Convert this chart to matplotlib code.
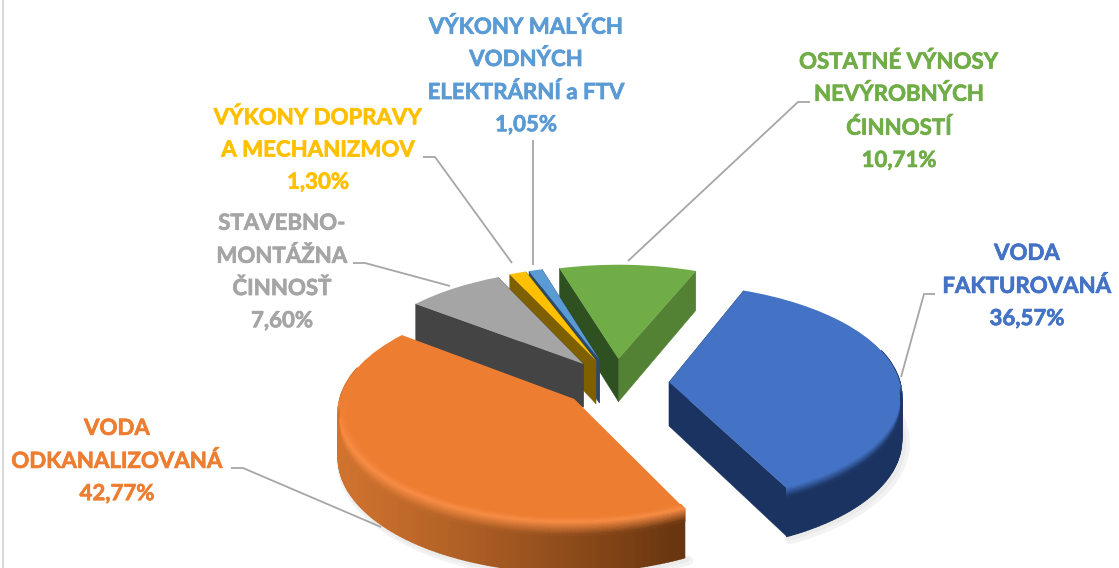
import numpy as np
import matplotlib
matplotlib.use("Agg")
import matplotlib.pyplot as plt
import matplotlib.patheffects as pe
from matplotlib.collections import PolyCollection
from matplotlib.colors import to_rgb
from matplotlib.transforms import Transform

# ---- data ----
CATEGORIES = ["VODA\nFAKTUROVANÁ", "VODA\nODKANALIZOVANÁ", "STAVEBNO-\nMONTÁŽNA\nČINNOSŤ",
              "VÝKONY DOPRAVY\nA MECHANIZMOV", "VÝKONY MALÝCH\nVODNÝCH\nELEKTRÁRNÍ a FTV",
              "OSTATNÉ VÝNOSY\nNEVÝROBNÝCH\nĆINNOSTÍ"]
VALUES = [36.57, 42.77, 7.60, 1.30, 1.05, 10.71]

# ---- style ----
TOP = ["#4472c4", "#ed7d31", "#a5a5a5", "#ffc000", "#5b9bd5", "#70ad47"]
CUT = ["#1b3360", "#8a4a1c", "#444444", "#7f6000", "#2b4a68", "#2f5020"]
CUT_R = {5: "#548235"}
LABEL_POS = [(1027, 286), (117, 461), (282, 272), (318, 150), (526, 76), (899, 111)]
DRAW_ORDER = [5, 4, 3, 2, 0, 1]
LEADERS = [[(901, 377), (924, 294), (935, 294)],
           [(381, 527), (243, 468), (231, 468)],
           [(450, 286), (365, 263), (353, 263)],
           [(512, 263), (435, 157), (423, 157)],
           [(533, 265), (533, 140)],
           [(628, 261), (798, 102), (810, 102)]]
CX, CY, S, SK, P, DEPTH = 616, 383, 231, 108, 0.10, 44
EXPLODE = 0.23
HIGHLIGHT = "#f78c44"


def project(X, Y, d=0.0):
    w = 1 + P * Y
    return CX + S * X / w, CY - SK * Y / w + d * DEPTH / w


class Persp(Transform):
    input_dims = 2
    output_dims = 2
    is_affine = False
    has_inverse = False

    def transform_non_affine(self, v):
        v = np.asarray(v, float)
        return np.column_stack(project(v[:, 0], v[:, 1]))


def mix(a, b, f):
    a, b = np.array(to_rgb(a)), np.array(to_rgb(b))
    return tuple(a + (b - a) * f)


plt.rcParams["font.family"] = ["Lato", "DejaVu Sans"]
fig = plt.figure(figsize=(11.19, 5.68), dpi=100)
ax = fig.add_axes([0, 0, 1, 1])
wedges, _ = ax.pie(VALUES, explode=[EXPLODE] * len(VALUES), startangle=68, counterclock=False,
                   colors=TOP, wedgeprops=dict(transform=Persp() + ax.transData, linewidth=0))
ax.set_aspect("auto")
ax.set_xlim(0, 1119)
ax.set_ylim(568, 0)
ax.axis("off")


def ring(w, t, r0, r1, d0, d1, cols, z):
    """strip of quads along the arc of wedge w"""
    c = np.array(w.center)
    co, si = np.cos(np.radians(t)), np.sin(np.radians(t))
    xa, ya = project(c[0] + r0 * co, c[1] + r0 * si, d0)
    xb, yb = project(c[0] + r1 * co, c[1] + r1 * si, d1)
    polys = [[(xa[i], ya[i]), (xa[i + 1], ya[i + 1]), (xb[i + 1], yb[i + 1]), (xb[i], yb[i])]
             for i in range(len(t) - 1)]
    ax.add_collection(PolyCollection(polys, facecolors=cols, edgecolors=cols, linewidths=1.0, zorder=z))


def wall_colour(i, w, tm):
    if i != 1:
        return [CUT[i]] * len(tm)
    c = w.center
    sx = project(c[0] + np.cos(np.radians(tm)), c[1] + np.sin(np.radians(tm)))[0]
    f = np.clip((sx - 338) / (686 - 338), 0, 1)
    return [mix("#d0732f", "#66340f", v ** 1.15) for v in f]


for rank, i in enumerate(DRAW_ORDER):
    w = wedges[i]
    z = 10 + rank * 10
    c = np.array(w.center)
    t1, t2 = w.theta1, w.theta2
    t = np.arange(t1, t2 + 0.5, 1.0)
    t[-1] = t2

    # soft shadow under the front of the wedge
    front = t[np.sin(np.radians(t)) < 0.3]
    if len(front) > 1:
        for grow, shade in ((7, "#f3f3f3"), (4, "#ebebeb")):
            sx, sy = project(c[0] + np.cos(np.radians(front)), c[1] + np.sin(np.radians(front)), 1)
            ax.plot(sx + grow * 0.5, sy + grow * 0.4, color=shade, lw=grow, zorder=1,
                    solid_capstyle="round")

    # the two cut faces (the big orange slice hides both of its own)
    if i != 1:
        for k, tt in enumerate((t1, t2)):
            ex, ey = c[0] + np.cos(np.radians(tt)), c[1] + np.sin(np.radians(tt))
            a0, b0 = project(c[0], c[1]), project(ex, ey)
            b1, a1 = project(ex, ey, 1), project(c[0], c[1], 1)
            col = CUT_R[i] if (i in CUT_R and k == 0) else CUT[i]
            ax.fill([a0[0], b0[0], b1[0], a1[0]], [a0[1], b0[1], b1[1], a1[1]],
                    color=col, lw=0.3, zorder=z)

    # curved outer wall (only the part turned towards the viewer)
    if len(front) > 1:
        mids = (front[:-1] + front[1:]) / 2
        ring(w, front, 1, 1, 0, 1, wall_colour(i, w, mids), z + 1)

    w.set_zorder(z + 2)

    # bevel: fine fade from the top colour into the wall along the front rim
    if i in (0, 1):
        tb = t[np.sin(np.radians(t)) < -0.02]
        mb = (tb[:-1] + tb[1:]) / 2
        wall = wall_colour(i, w, mb)
        g = np.clip(-np.sin(np.radians(mb)) / 0.35, 0, 1)
        n = 10
        if i == 1:
            for j in range(n):
                r0, r1 = 0.965 + 0.035 * j / n, 0.965 + 0.035 * (j + 1) / n
                ring(w, tb, r0, r1, 0, 0, [mix(TOP[i], HIGHLIGHT, (j + 1) / n * q) for q in g], z + 3)
            start, span = HIGHLIGHT, 0.26
        else:
            start, span = TOP[i], 0.2
        for j in range(n):
            d0, d1 = span * j / n, span * (j + 1) / n
            fr = (j + 0.5) / n
            ring(w, tb, 1, 1, d0, d1, [mix(start, wc, fr) for wc in wall], z + 3)

# leader lines
for pts in LEADERS:
    xs, ys = zip(*pts)
    ax.plot(xs, ys, color="#a6a6a6", lw=1.3, zorder=2, solid_capstyle="butt")
ax.plot([3, 3], [0, 568], color="#d9d9d9", lw=1.5, zorder=1)

# labels
for name, v, col, (x, y) in zip(CATEGORIES, VALUES, TOP, LABEL_POS):
    ax.text(x, y, f"{name}\n{v:.2f}%".replace(".", ","), color=col, ha="center", va="center",
            fontsize=16, fontweight="bold", linespacing=1.66, zorder=200,
            path_effects=[pe.withStroke(linewidth=0.5, foreground=col)])

fig.savefig("out.png", dpi=100)
